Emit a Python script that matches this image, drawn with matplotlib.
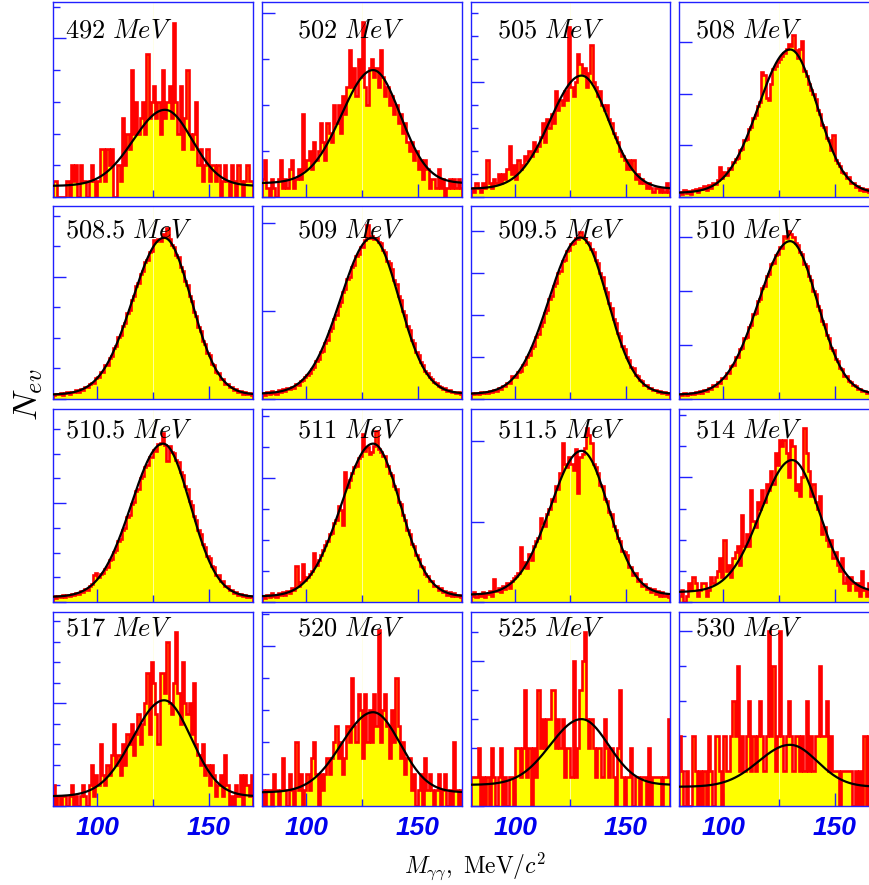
import numpy as np
import matplotlib
matplotlib.use("Agg")
import matplotlib.pyplot as plt
from matplotlib.ticker import MultipleLocator

plt.rcParams['mathtext.fontset'] = 'cm'

# beam energies of the 16 panels (row by row)
energies = ["492", "502", "505", "508",
            "508.5", "509", "509.5", "510",
            "510.5", "511", "511.5", "514",
            "517", "520", "525", "530"]

# histogram contents, 1 MeV bins from 80 to 170 MeV/c^2
h492 = [1, 1, 0, 0, 0, 0, 1, 0, 2, 1,
        2, 0, 2, 1, 1, 0, 1, 2, 1, 0,
        1, 3, 3, 1, 3, 2, 3, 0, 0, 2,
        1, 5, 2, 4, 3, 8, 4, 6, 4, 5,
        6, 4, 9, 5, 6, 7, 5, 6, 4, 8,
        5, 6, 7, 5, 11, 6, 4, 7, 3, 5,
        8, 4, 3, 4, 6, 2, 3, 1, 2, 3,
        1, 2, 2, 1, 2, 0, 1, 2, 1, 0,
        2, 1, 0, 2, 1, 0, 1, 2, 1, 1]
h502 = [2, 4, 1, 0, 2, 1, 0, 2, 4, 1,
        2, 1, 3, 4, 1, 2, 3, 2, 9, 3,
        4, 5, 3, 6, 4, 5, 8, 6, 4, 8,
        7, 6, 10, 8, 10, 7, 11, 9, 12, 16,
        12, 14, 11, 15, 13, 19, 12, 10, 14, 15,
        13, 14, 12, 16, 13, 11, 12, 10, 11, 9,
        10, 8, 9, 7, 8, 6, 5, 6, 4, 5,
        3, 4, 2, 4, 3, 1, 2, 2, 1, 3,
        1, 2, 0, 1, 2, 1, 2, 1, 2, 1]
h505 = [2, 1, 3, 2, 1, 3, 2, 8, 3, 2,
        4, 3, 5, 3, 5, 4, 6, 11, 5, 7,
        4, 8, 6, 7, 9, 8, 10, 9, 12, 10,
        11, 13, 16, 12, 17, 15, 18, 16, 23, 19,
        21, 20, 23, 21, 37, 24, 22, 25, 31, 29,
        27, 28, 24, 27, 33, 25, 24, 22, 23, 20,
        19, 20, 17, 16, 14, 13, 12, 10, 9, 8,
        6, 8, 6, 8, 4, 5, 3, 4, 3, 2,
        3, 2, 1, 2, 2, 1, 2, 1, 3, 1]
h508 = [5, 3, 7, 4, 6, 3, 7, 8, 5, 9,
        8, 11, 7, 12, 9, 14, 13, 16, 29, 18,
        24, 21, 28, 27, 34, 37, 38, 46, 47, 55,
        56, 66, 68, 77, 79, 88, 92, 121, 118, 96,
        94, 110, 124, 127, 131, 134, 137, 140, 143, 148,
        146, 157, 142, 135, 143, 151, 122, 117, 110, 104,
        100, 95, 84, 80, 70, 68, 57, 55, 46, 60,
        36, 33, 30, 24, 23, 18, 19, 14, 14, 10,
        11, 7, 9, 6, 8, 5, 6, 4, 6, 3]
h508_5 = [6, 9, 8, 10, 7, 10, 11, 9, 12, 11,
          14, 12, 16, 15, 20, 19, 24, 27, 27, 35,
          36, 44, 45, 55, 56, 67, 70, 83, 86, 101,
          104, 120, 125, 141, 146, 162, 168, 185, 190, 205,
          210, 225, 228, 241, 243, 260, 258, 262, 259, 270,
          266, 280, 262, 252, 249, 236, 232, 216, 210, 193,
          186, 168, 161, 142, 136, 118, 112, 95, 90, 75,
          72, 58, 56, 44, 43, 33, 33, 25, 25, 19,
          20, 14, 16, 11, 13, 9, 11, 8, 10, 7]
h509 = [7, 5, 8, 6, 9, 7, 6, 10, 8, 11,
        9, 12, 11, 14, 13, 17, 16, 20, 21, 25,
        27, 30, 34, 36, 43, 45, 53, 55, 64, 67,
        77, 80, 91, 95, 106, 110, 121, 125, 136, 139,
        150, 152, 162, 164, 172, 173, 180, 198, 183, 185,
        181, 183, 178, 177, 169, 167, 157, 154, 148, 135,
        130, 117, 112, 100, 95, 83, 78, 67, 63, 53,
        50, 42, 39, 32, 30, 25, 23, 19, 18, 15,
        14, 11, 12, 9, 10, 8, 8, 7, 8, 6]
h509_5 = [14, 11, 15, 13, 16, 14, 17, 15, 19, 17,
          22, 20, 26, 24, 31, 30, 38, 37, 56, 52,
          53, 65, 67, 80, 84, 99, 104, 122, 127, 147,
          154, 175, 183, 206, 213, 238, 245, 270, 276, 300,
          306, 328, 332, 352, 355, 370, 372, 383, 381, 398,
          386, 383, 375, 372, 357, 351, 332, 323, 300, 291,
          265, 254, 228, 218, 191, 182, 157, 149, 126, 119,
          99, 94, 77, 73, 58, 56, 45, 43, 34, 33,
          27, 26, 21, 21, 17, 18, 15, 16, 13, 15]
h510 = [9, 7, 11, 8, 10, 12, 9, 13, 11, 14,
        12, 17, 15, 20, 19, 25, 24, 31, 30, 38,
        39, 48, 49, 61, 62, 78, 77, 92, 95, 113,
        115, 134, 137, 158, 160, 181, 185, 205, 209, 228,
        231, 249, 252, 267, 268, 281, 280, 302, 298, 310,
        306, 300, 288, 284, 271, 268, 250, 246, 227, 221,
        200, 194, 172, 165, 144, 138, 118, 113, 94, 90,
        74, 71, 57, 55, 43, 42, 33, 32, 25, 24,
        19, 19, 15, 15, 12, 13, 10, 11, 9, 10]
h510_5 = [12, 9, 13, 10, 14, 11, 15, 13, 16, 14,
          18, 17, 22, 20, 27, 25, 33, 36, 55, 59,
          50, 56, 58, 67, 70, 84, 86, 101, 105, 123,
          127, 146, 150, 171, 176, 199, 202, 224, 228, 250,
          254, 272, 276, 292, 294, 308, 306, 320, 322, 342,
          318, 285, 315, 303, 302, 286, 282, 262, 256, 234,
          228, 205, 197, 174, 166, 145, 137, 117, 112, 93,
          89, 72, 70, 55, 54, 42, 42, 32, 32, 25,
          25, 19, 20, 15, 17, 13, 14, 11, 13, 10]
h511 = [5, 3, 6, 4, 7, 5, 4, 7, 6, 8,
        6, 9, 7, 11, 10, 29, 13, 16, 31, 18,
        20, 23, 25, 40, 30, 34, 38, 42, 46, 49,
        55, 56, 64, 66, 78, 74, 62, 105, 93, 99,
        104, 109, 110, 116, 118, 136, 122, 125, 120, 121,
        126, 138, 124, 121, 118, 118, 110, 104, 103, 94,
        91, 81, 79, 70, 66, 58, 55, 47, 45, 38,
        35, 29, 28, 23, 21, 17, 17, 13, 13, 10,
        11, 8, 9, 6, 8, 5, 7, 5, 6, 4]
h511_5 = [4, 6, 3, 5, 4, 6, 3, 5, 7, 4,
          14, 7, 9, 6, 10, 8, 12, 9, 13, 15,
          16, 18, 34, 22, 25, 21, 30, 26, 35, 38,
          40, 52, 49, 47, 55, 58, 64, 63, 72, 70,
          80, 99, 86, 84, 90, 86, 82, 95, 68, 90,
          92, 96, 108, 104, 99, 86, 84, 80, 73, 72,
          64, 63, 56, 55, 47, 45, 40, 38, 32, 31,
          29, 22, 22, 17, 18, 13, 14, 10, 11, 8,
          9, 6, 8, 5, 7, 4, 6, 4, 5, 3]
h514 = [1, 2, 0, 1, 3, 2, 4, 3, 1, 2,
        3, 3, 1, 2, 4, 3, 4, 5, 7, 4,
        10, 5, 6, 4, 7, 8, 9, 6, 14, 9,
        11, 9, 18, 13, 12, 16, 15, 18, 16, 19,
        18, 21, 19, 24, 22, 26, 25, 26, 24, 20,
        26, 25, 18, 19, 17, 20, 28, 24, 21, 17,
        19, 16, 15, 17, 11, 12, 10, 9, 10, 7,
        8, 6, 5, 7, 3, 4, 2, 4, 3, 2,
        3, 1, 5, 2, 1, 3, 2, 1, 2, 1]
h517 = [2, 0, 1, 0, 1, 1, 0, 1, 2, 0,
        1, 0, 1, 2, 1, 0, 2, 4, 1, 3,
        2, 6, 3, 2, 4, 3, 5, 8, 4, 5,
        3, 6, 4, 7, 6, 8, 5, 7, 9, 6,
        8, 10, 13, 7, 14, 12, 9, 6, 13, 13,
        11, 16, 10, 9, 12, 17, 11, 8, 14, 10,
        9, 10, 7, 12, 6, 5, 4, 6, 3, 4,
        2, 4, 3, 1, 2, 3, 1, 5, 2, 0,
        1, 0, 2, 1, 3, 0, 3, 2, 1, 3]
h520 = [1, 0, 1, 1, 0, 2, 1, 0, 1, 3,
        1, 0, 2, 1, 0, 4, 1, 2, 0, 1,
        2, 1, 3, 4, 2, 0, 2, 1, 2, 3,
        2, 3, 4, 5, 3, 4, 2, 3, 5, 4,
        8, 5, 4, 7, 6, 3, 7, 4, 6, 4,
        7, 5, 11, 4, 6, 7, 5, 3, 6, 4,
        8, 5, 3, 4, 2, 3, 3, 1, 2, 0,
        1, 2, 0, 3, 1, 2, 1, 0, 1, 2,
        0, 1, 2, 0, 1, 0, 4, 1, 0, 1]
h525 = [1, 1, 1, 2, 0, 1, 0, 1, 0, 2,
        1, 0, 1, 2, 0, 1, 0, 1, 1, 0,
        2, 2, 1, 2, 4, 1, 2, 0, 2, 1,
        4, 2, 3, 2, 3, 3, 4, 4, 2, 3,
        2, 3, 1, 2, 2, 1, 5, 1, 2, 4,
        5, 6, 3, 2, 3, 2, 1, 2, 2, 1,
        3, 2, 1, 2, 1, 0, 2, 4, 1, 0,
        1, 1, 2, 0, 1, 1, 0, 1, 1, 0,
        2, 0, 1, 1, 1, 1, 0, 1, 1, 3]
h530 = [2, 1, 0, 1, 0, 0, 2, 1, 0, 1,
        0, 1, 0, 2, 1, 0, 2, 2, 1, 0,
        2, 1, 1, 2, 3, 2, 4, 1, 2, 1,
        2, 3, 1, 2, 1, 2, 3, 2, 1, 2,
        5, 2, 4, 1, 2, 5, 2, 1, 2, 3,
        2, 1, 2, 2, 1, 2, 1, 3, 1, 2,
        1, 2, 2, 4, 2, 2, 3, 1, 2, 1,
        1, 1, 0, 1, 1, 1, 1, 1, 0, 1,
        0, 1, 0, 2, 0, 2, 0, 2, 0, 2]

hists = [h492, h502, h505, h508, h508_5, h509, h509_5, h510,
         h510_5, h511, h511_5, h514, h517, h520, h525, h530]

# fit parameters: peak above background, background, peak position
fit_amp = [4.8, 12.3, 24.6, 139, 257, 177, 373, 284,
           310, 123.5, 89.5, 21.2, 9.35, 5.0, 2.27, 1.2]
fit_bg = [0.7, 1.5, 1.8, 4, 7, 6, 12, 8,
          10, 4.5, 4.5, 1.6, 0.95, 0.85, 0.73, 0.55]
fit_mean = [130.4, 130, 130, 130, 130, 129.5, 129.5, 130,
            129.5, 130, 130, 130.9, 130, 130, 130, 130]
sigma_left = 14.2
sigma_right = 12.2

# y axis range and tick steps of each panel
y_max = [12.3, 21.2, 42.4, 189, 316, 219, 460, 357,
         390, 156, 120, 31, 18.9, 12.1, 6.7, 5.55]
y_major = [10, 20, 25, 50, 200, 100, 100, 100,
           200, 100, 50, 20, 10, 10, 5, 5]
y_minor = [2, 5, 5, None, 50, None, None, None,
           50, 25, None, 5, 2, 2, 1, 1]


def fit_curve(x, amp, bg, mean):
    s = np.where(x < mean, sigma_left, sigma_right)
    return bg + amp * np.exp(-0.5 * ((x - mean) / s) ** 2)


W, H = 870, 885
col_px = [(53, 253), (262, 462), (471, 670), (679, 879)]
row_px = [(2, 197), (206, 399), (409, 602), (612, 806)]
label_x = [65, 297, 497, 695]
label_y = [37, 238, 438, 636]
blue = '#2020ff'

fig = plt.figure(figsize=(W / 100, H / 100), dpi=100)
edges = np.linspace(80, 170, 91)
xf = np.linspace(80, 170, 500)

for k in range(16):
    r, c = divmod(k, 4)
    x0, x1 = col_px[c]
    y0, y1 = row_px[r]
    ax = fig.add_axes([x0 / W, 1 - y1 / H, (x1 - x0) / W, (y1 - y0) / H])
    counts = np.array(hists[k], dtype=float)

    ax.stairs(counts, edges, fill=True, color='#ffff00', lw=0, zorder=1)
    ax.axvline(125, color='#ffffe0', lw=0.5, zorder=1.5)
    ax.stairs(counts, edges, color='#ff0000', lw=1.9, zorder=2)
    ax.plot(xf, fit_curve(xf, fit_amp[k], fit_bg[k], fit_mean[k]),
            color='black', lw=1.6, zorder=3)

    ax.set_xlim(80, 170)
    ax.set_ylim(0, y_max[k])
    ax.set_xticks([100, 150])
    ax.set_xticks([125], minor=True)
    ax.yaxis.set_major_locator(MultipleLocator(y_major[k]))
    if y_minor[k]:
        ax.yaxis.set_minor_locator(MultipleLocator(y_minor[k]))

    ax.tick_params(which='both', direction='in', color=blue, width=1.0,
                   top=False, right=False, labelleft=False)
    ax.tick_params(which='major', length=9.5)
    ax.tick_params(which='minor', length=5)
    for sp in ax.spines.values():
        sp.set_color(blue)
        sp.set_linewidth(1.0)

    if r < 3:
        ax.tick_params(axis='x', labelbottom=False)
    else:
        ax.tick_params(axis='x', pad=7, labelcolor='#0000ee')
        for lab in ax.get_xticklabels():
            lab.set_family(['Liberation Sans', 'DejaVu Sans'])
            lab.set_fontweight('bold')
            lab.set_fontstyle('italic')
            lab.set_fontsize(19)

    fig.text(label_x[c] / W, 1 - label_y[r] / H,
             r"$%s\ MeV$" % energies[k], fontsize=19, va='baseline')

fig.text(28 / W, 1 - 395 / H, r"$N_{ev}$", fontsize=25,
         rotation=90, ha='center', va='center')
fig.text(475 / W, 1 - 866 / H, r"$M_{\gamma\gamma},\ \mathrm{MeV}/c^2$",
         fontsize=17, ha='center', va='center')

fig.savefig("out.png", dpi=100)
